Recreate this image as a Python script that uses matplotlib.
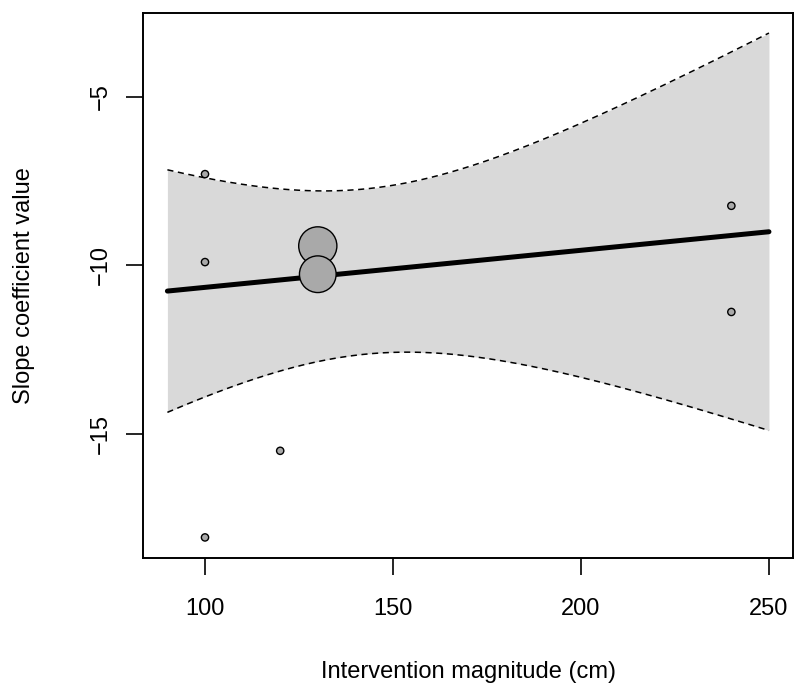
import numpy as np
import matplotlib
matplotlib.use("Agg")
import matplotlib.pyplot as plt

plt.rcParams['font.family'] = ['Liberation Sans', 'DejaVu Sans']

# Observed studies
magnitude = [130, 130, 100, 100, 100, 120, 240, 240]
slope_coef = [-9.43, -10.27, -7.30, -9.91, -18.08, -15.51, -8.24, -11.39]
rel_size = [1.0, 0.96, 0.19, 0.19, 0.19, 0.19, 0.19, 0.19]

# Meta-regression fit
intercept = -11.76
slope = 0.011
se_center_x = 142.7
se_at_center = 1.251
se_growth = 0.0255
z_crit = 1.96
x_pred_range = [90, 250]

x_ticks = [100, 150, 200, 250]
y_ticks = [-5, -10, -15]

fig = plt.figure(figsize=(7.95, 6.94), dpi=100)
ax = fig.add_axes([0.1803, 0.196, 0.9975 - 0.1803, 0.9817 - 0.196])

xs = np.linspace(x_pred_range[0], x_pred_range[1], 300)
fit = intercept + slope * xs
se = np.sqrt(se_at_center ** 2 + (se_growth * (xs - se_center_x)) ** 2)
lo = fit - z_crit * se
hi = fit + z_crit * se

ax.fill_between(xs, lo, hi, color='#D9D9D9', lw=0, zorder=1)
ax.plot(xs, hi, color='black', lw=1.1, ls=(0, (4, 3)), zorder=2)
ax.plot(xs, lo, color='black', lw=1.1, ls=(0, (4, 3)), zorder=2)
ax.plot(xs, fit, color='black', lw=3.6, solid_capstyle='round', zorder=3)

max_diam = 27.5
sizes = [(r * max_diam) ** 2 for r in rel_size]
ax.scatter(magnitude, slope_coef, s=sizes, facecolor='#A9A9A9',
           edgecolor='black', linewidths=1.0, zorder=4)

ax.set_xlim(83.6, 256.4)
ax.set_ylim(-18.69, -2.51)
ax.set_xticks(x_ticks)
ax.set_xticklabels([str(v) for v in x_ticks])
ax.set_yticks(y_ticks)
ax.set_yticklabels(['\u2212' + str(abs(v)) for v in y_ticks], rotation=90, va='center')

ax.tick_params(axis='both', direction='out', length=12, width=1.2, labelsize=17,
               color='black')
ax.tick_params(axis='x', pad=17)
ax.tick_params(axis='y', pad=11)
for sp in ax.spines.values():
    sp.set_linewidth(1.4)
    sp.set_color('black')

ax.set_xlabel('Intervention magnitude (cm)', fontsize=17, va='center')
ax.xaxis.set_label_coords(0.5, -0.209)
ax.set_ylabel('Slope coefficient value', fontsize=17, va='center')
ax.yaxis.set_label_coords(-0.183, 0.5)

fig.savefig('out.png', dpi=100)
